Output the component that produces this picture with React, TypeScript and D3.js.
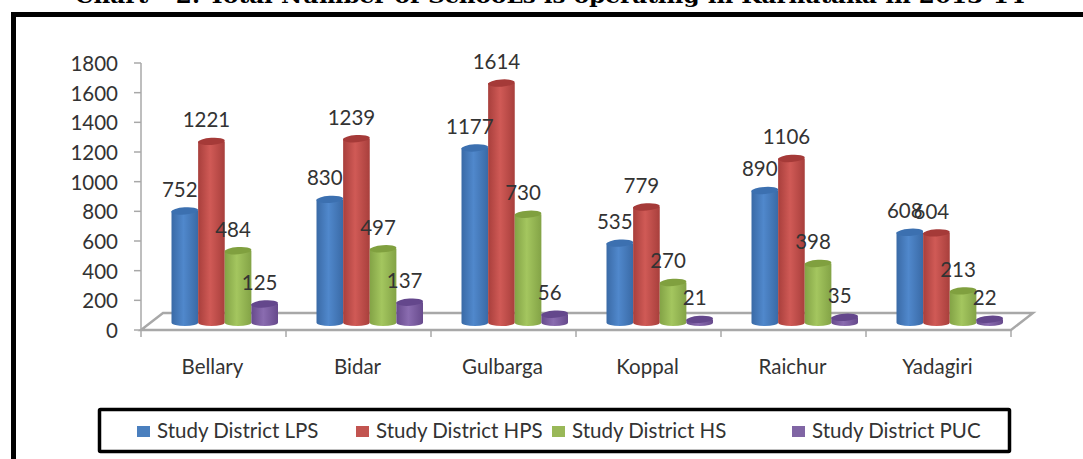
import React from "react";
import * as d3 from "d3";

const districts = ["Bellary", "Bidar", "Gulbarga", "Koppal", "Raichur", "Yadagiri"];
const seriesNames = ["Study District LPS", "Study District HPS", "Study District HS", "Study District PUC"];
const lps = [752, 830, 1177, 535, 890, 608];
const hps = [1221, 1239, 1614, 779, 1106, 604];
const hs = [484, 497, 730, 270, 398, 213];
const puc = [125, 137, 56, 21, 35, 22];
const seriesValues = [lps, hps, hs, puc];
const yTicks = [0, 200, 400, 600, 800, 1000, 1200, 1400, 1600, 1800];

const title = "Chart – 2: Total Number of SchooLs is operating in Karnataka in 2013-14";

// side, middle, top of the cylinders
const sideDark = ["#3a6aa6", "#a83f3c", "#83a346", "#674a8c"];
const sideLight = ["#5088cc", "#d05a56", "#a4c65f", "#8a6cb0"];
const topColor = ["#3c70b0", "#a53a38", "#80a03f", "#64478c"];

const legendX = [137, 356, 552, 792];

const font = "Lato, 'Open Sans', sans-serif";
const textColor = "#333";
const depth = { x: 22, y: 17 };
const baseLift = 7.5;
const ry = 3.6;

const App = () => {
  const width = 1083;
  const height = 459;

  const x = d3.scaleBand().domain(districts).range([141, 1011]);
  const xInner = d3.scaleBand().domain(seriesNames).range([30.5, 137]);
  const y = d3.scaleLinear().domain([0, 1800]).range([330, 63]);

  const x0 = x.range()[0];
  const x1 = x.range()[1];
  const floorY = y(0);
  const edges = [...districts.map((d) => x(d)), x1];

  return (
    <svg
      width={width}
      height={height}
      style={{ position: "absolute", left: 0, top: 0, display: "block", background: "#fff" }}
    >
      <defs>
        {seriesNames.map((s, i) => (
          <linearGradient key={s} id={`side-${i}`} x1="0" x2="1" y1="0" y2="0">
            <stop offset="0%" stopColor={sideDark[i]} />
            <stop offset="45%" stopColor={sideLight[i]} />
            <stop offset="100%" stopColor={sideDark[i]} />
          </linearGradient>
        ))}
      </defs>

      {/* Title, cut off by the top of the page */}
      <text
        x={75}
        y={3}
        fontFamily="'DejaVu Serif', serif"
        fontWeight="bold"
        fontSize={20}
        textLength={950}
        lengthAdjust="spacingAndGlyphs"
        fill="#000"
      >
        {title}
      </text>

      {/* Outer frame */}
      <path d={`M13.5 ${height + 5} V14.5 H${width + 5}`} fill="none" stroke="#000" strokeWidth={5} />

      {/* Floor */}
      <path
        d={`M${x0} ${floorY} L${x0 + depth.x} ${floorY - depth.y} H${x1 + depth.x} L${x1} ${floorY} Z`}
        fill="#fff"
        stroke="#a8a8a8"
        strokeWidth={2.4}
      />

      {/* Y axis */}
      <line x1={x0} x2={x0} y1={y(1800)} y2={floorY} stroke="#a8a8a8" strokeWidth={1.5} />
      {yTicks.map((t) => (
        <g key={t}>
          <line x1={x0 - 7} x2={x0} y1={y(t)} y2={y(t)} stroke="#a8a8a8" strokeWidth={1.5} />
          <text
            x={118}
            y={y(t) + 8}
            textAnchor="end"
            fontFamily={font}
            fontSize={20.5}
            fill={textColor}
          >
            {t}
          </text>
        </g>
      ))}

      {/* X axis */}
      {edges.map((e) => (
        <line key={e} x1={e} x2={e} y1={floorY} y2={floorY + 7} stroke="#a8a8a8" strokeWidth={1.5} />
      ))}
      {districts.map((d) => (
        <text
          key={d}
          x={x(d) + x.bandwidth() / 2 - 1}
          y={374}
          textAnchor="middle"
          fontFamily={font}
          fontSize={20.5}
          fill={textColor}
        >
          {d}
        </text>
      ))}

      {/* Cylinders */}
      {districts.map((d, di) =>
        seriesNames.map((s, si) => {
          const left = x(d) + xInner(s);
          const w = xInner.bandwidth();
          const rx = w / 2;
          const base = floorY - baseLift;
          const top = y(seriesValues[si][di]) - baseLift;
          return (
            <g key={`${d}-${s}`}>
              <path
                d={`M${left} ${top} V${base} A${rx} ${ry} 0 0 0 ${left + w} ${base} V${top} Z`}
                fill={`url(#side-${si})`}
              />
              <ellipse
                cx={left + rx}
                cy={top}
                rx={rx}
                ry={ry}
                fill={topColor[si]}
                transform={`rotate(-4 ${left + rx} ${top})`}
              />
            </g>
          );
        })
      )}

      {/* Value labels */}
      {districts.map((d, di) =>
        seriesNames.map((s, si) => {
          const v = seriesValues[si][di];
          return (
            <text
              key={`label-${d}-${s}`}
              x={x(d) + xInner(s) + xInner.bandwidth() / 2 - 5}
              y={y(v) - baseLift - 14}
              textAnchor="middle"
              fontFamily={font}
              fontSize={20.5}
              fill={textColor}
            >
              {v}
            </text>
          );
        })
      )}

      {/* Legend */}
      <rect x={99.5} y={409.5} width={910} height={42} fill="#fff" stroke="#000" strokeWidth={3.5} rx={1} />
      {seriesNames.map((s, i) => (
        <g key={s} transform={`translate(${legendX[i]}, 426)`}>
          <rect width={13} height={11} fill={d3.color(sideLight[i]).darker(0.2).formatHex()} />
          <text x={20} y={11.5} fontFamily={font} fontSize={20.5} fill={textColor}>
            {s}
          </text>
        </g>
      ))}
    </svg>
  );
};

export default App;
